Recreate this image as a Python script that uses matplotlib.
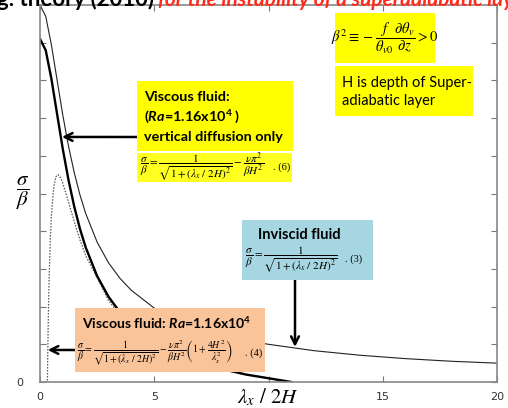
import matplotlib
matplotlib.use('Agg')
import matplotlib.pyplot as plt
from matplotlib.patches import Rectangle

# growth rate sigma/beta against lambda_x / 2H
x_inviscid = [0, 0.25, 0.5, 0.75, 1, 1.25, 1.5, 1.75, 2, 2.5, 3, 3.5, 4,
              5, 6, 7, 8, 9, 10, 12, 14, 16, 18, 20]
y_inviscid = [1.000, 0.970, 0.894, 0.800, 0.707, 0.625, 0.555, 0.496, 0.447,
              0.371, 0.316, 0.275, 0.243, 0.196, 0.164, 0.141, 0.124, 0.110,
              0.100, 0.083, 0.071, 0.062, 0.055, 0.050]

x_vertical = [0, 0.25, 0.5, 0.75, 1, 1.25, 1.5, 1.75, 2, 2.5, 3, 3.5, 4,
              5, 6, 7, 8, 9, 10, 11]
y_vertical = [0.910, 0.880, 0.804, 0.710, 0.617, 0.535, 0.465, 0.406, 0.357,
              0.281, 0.226, 0.185, 0.153, 0.106, 0.074, 0.051, 0.034, 0.020,
              0.010, 0.000]

x_full = [0.32, 0.33, 0.34, 0.36, 0.38, 0.4, 0.45, 0.5, 0.6, 0.7, 0.8, 0.9,
          1.0, 1.25, 1.5, 1.75, 2, 2.5, 3, 3.5, 4, 5, 6, 7, 8, 9, 10, 11]
y_full = [-0.020, 0.033, 0.078, 0.156, 0.222, 0.276, 0.378, 0.444, 0.517,
          0.545, 0.550, 0.542, 0.527, 0.477, 0.425, 0.377, 0.335, 0.277,
          0.216, 0.178, 0.147, 0.102, 0.072, 0.049, 0.033, 0.019, 0.009, 0.000]

xticks = [0, 5, 10, 15, 20]
xticklabels = ['0', '5', '', '15', '20']

W, H = 508, 408
fig = plt.figure(figsize=(W / 100, H / 100), dpi=100)
ax = fig.add_axes([40 / W, 1 - 382 / H, 457 / W, 377 / H])


def fx(px):
    return px / W


def fy(py):
    return 1 - py / H


def box(x0, y0, x1, y1, color):
    fig.add_artist(Rectangle((fx(x0), fy(y1)), (x1 - x0) / W, (y1 - y0) / H,
                             transform=fig.transFigure, facecolor=color,
                             edgecolor='none', zorder=3))


def ftext(px, py, s, **kw):
    kw.setdefault('zorder', 4)
    fig.text(fx(px), fy(py), s, **kw)


plt.rcParams['mathtext.fontset'] = 'custom'
plt.rcParams['mathtext.rm'] = 'Lato:bold'
plt.rcParams['mathtext.it'] = 'Lato:italic:bold'
plt.rcParams['mathtext.bf'] = 'Lato:bold'

ax.plot(x_inviscid, y_inviscid, color='#222222', lw=0.8)
ax.plot(x_full, y_full, color='#555555', lw=0.9, ls=(0, (1.2, 1.2)))
ax.plot(x_vertical, y_vertical, color='black', lw=1.7)

ax.set_xlim(0, 20)
ax.set_ylim(0, 1)
ax.set_xticks(xticks)
ax.set_xticklabels(xticklabels)
ax.set_yticks([i / 10 for i in range(11)])
ax.set_yticklabels(['0'] + [''] * 10)
ax.tick_params(direction='in', length=4, width=0.8, color='#777777',
               labelsize=8, labelcolor='#333333', top=True, right=True)
ax.tick_params(axis='x', pad=7)
ax.tick_params(axis='y', pad=12)
for sp in ax.spines.values():
    sp.set_color('#888888')
    sp.set_linewidth(1.2)

ftext(268, 397, r'$\lambda_x\ /\ 2H$', fontsize=15, ha='center', va='center',
      math_fontfamily='stix')
ftext(23, 193, r'$\dfrac{\sigma}{\beta}$', fontsize=15, ha='center',
      va='center', math_fontfamily='stix')

# heading running off the top of the slide
ftext(-3, 6.5, 'g. theory (2010)', fontsize=16, fontweight='bold',
      family='Lato', va='baseline')
ftext(158, 6.5, 'for the instability of a superadiabatic layer', fontsize=15,
      fontweight='bold', style='italic', family='Lato', color='#ff2a1a',
      va='baseline')

eq_inv = r'$\dfrac{\sigma}{\beta}=\dfrac{1}{\sqrt{1+(\lambda_x\ /\ 2H)^2}}$'
eq_vert = (r'$\dfrac{\sigma}{\beta}=\dfrac{1}{\sqrt{1+(\lambda_x\ /\ 2H)^2}}'
           r'-\dfrac{\nu\pi^2}{\beta H^2}$')
eq_full = (r'$\dfrac{\sigma}{\beta}=\dfrac{1}{\sqrt{1+(\lambda_x\ /\ 2H)^2}}'
           r'-\dfrac{\nu\pi^2}{\beta H^2}\left(1+\dfrac{4H^2}{\lambda_x^2}\right)$')

# beta definition and H note
box(335, 13, 435, 63, '#ffff00')
ftext(385, 38, r'$\beta^2\equiv-\dfrac{f}{\theta_{v0}}\dfrac{\partial\theta_v}{\partial z}>0$',
      fontsize=10.5, ha='center', va='center', math_fontfamily='stix')
box(335, 66, 473, 116, '#ffff00')
ftext(342, 92, 'H is depth of Super-\nadiabatic layer', fontsize=10.5,
      family='Lato', va='center', linespacing=1.45)

# viscous fluid, vertical diffusion only
box(137, 81, 293, 151, '#ffff00')
ftext(144, 117, 'Viscous fluid:\n($\\mathit{Ra}$=1.16x10$^4$ )\nvertical diffusion only',
      fontsize=10.4, fontweight='bold', family='Lato', va='center',
      linespacing=1.5)
box(137, 153, 292, 182, '#ffff20')
ftext(140, 167, eq_vert, fontsize=8.0, va='center', math_fontfamily='stix')
ftext(273, 167, '. (6)', fontsize=7.5, va='center', family='Liberation Serif')

# inviscid fluid
box(242, 220, 373, 280, '#a6d6e2')
ftext(258, 235, 'Inviscid fluid', fontsize=10.5, fontweight='bold',
      family='Lato', va='center')
ftext(245, 259, eq_inv, fontsize=8, va='center', math_fontfamily='stix')
ftext(345, 259, '. (3)', fontsize=7.5, va='center', family='Liberation Serif')

# viscous fluid, full expression
box(75, 308, 265, 372, '#fac49a')
ftext(82, 323, 'Viscous fluid: $\\mathit{Ra}$=1.16x10$^4$', fontsize=10.1,
      fontweight='bold', family='Lato', va='center')
ftext(77, 353, eq_full, fontsize=7.0, va='center', math_fontfamily='stix')
ftext(245, 353, '. (4)', fontsize=7.5, va='center', family='Liberation Serif')

arrow = dict(arrowstyle='->', lw=1.8, color='black', mutation_scale=14,
             shrinkA=0, shrinkB=0)
ax.annotate('', xy=(0.96, 0.65), xycoords='data', xytext=(137, H - 137),
            textcoords='figure pixels', arrowprops=arrow, annotation_clip=False)
ax.annotate('', xy=(11.16, 0.093), xycoords='data', xytext=(295, H - 280),
            textcoords='figure pixels', arrowprops=arrow, annotation_clip=False)
ax.annotate('', xy=(0.34, 0.085), xycoords='data', xytext=(75, H - 350),
            textcoords='figure pixels', arrowprops=arrow, annotation_clip=False)

fig.savefig('out.png', dpi=100)
